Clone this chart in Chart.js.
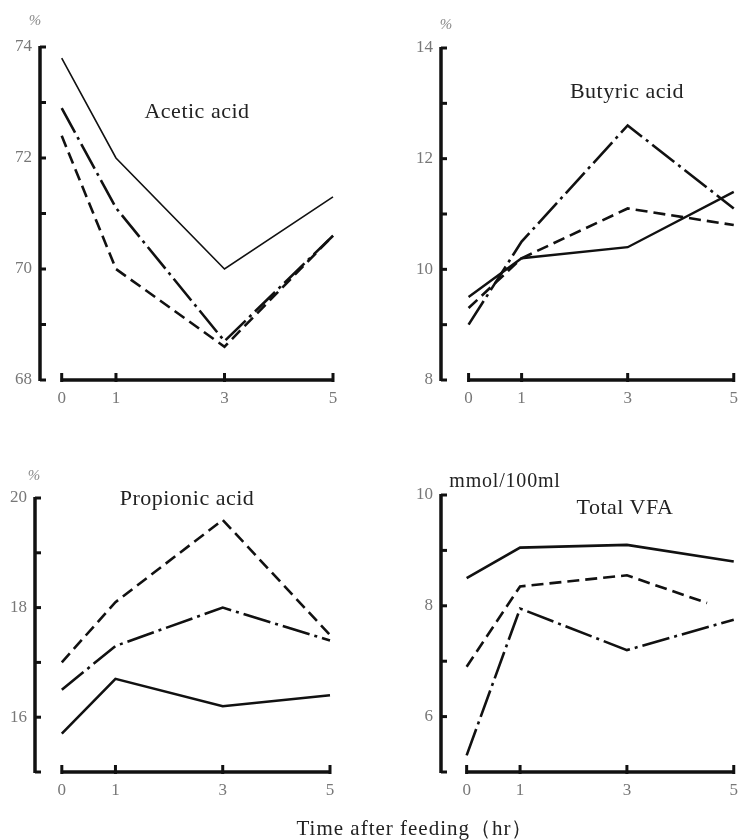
<!DOCTYPE html>
<html>
<head>
<meta charset="utf-8">
<script src="https://cdn.jsdelivr.net/npm/chart.js@4"></script>
<style>
  body { margin: 0; background: #fff; }
  #wrap { position: relative; width: 746px; height: 840px; overflow: hidden; }
  canvas { position: absolute; }
  .lbl { position: absolute; font-family: "Liberation Serif", serif; color: #222; white-space: nowrap; transform: translate(-50%, -50%); }
  .ttl { font-size: 22px; letter-spacing: 0.5px; }
  .unit { color: #888; font-style: italic; font-size: 15px; }
</style>
</head>
<body>
<div id="wrap">
  <canvas id="acetic" width="373" height="420" style="left:0;top:0"></canvas>
  <canvas id="butyric" width="373" height="420" style="left:373px;top:0"></canvas>
  <canvas id="propionic" width="373" height="420" style="left:0;top:420px"></canvas>
  <canvas id="vfa" width="373" height="420" style="left:373px;top:420px"></canvas>

  <div class="lbl unit" style="left:35px;top:20px">%</div>
  <div class="lbl unit" style="left:446px;top:24px">%</div>
  <div class="lbl unit" style="left:34px;top:475px">%</div>
  <div class="lbl" style="left:505px;top:480px;font-size:20px;letter-spacing:0.8px">mmol/100ml</div>

  <div class="lbl ttl" style="left:197px;top:111px">Acetic acid</div>
  <div class="lbl ttl" style="left:627px;top:91px">Butyric acid</div>
  <div class="lbl ttl" style="left:187px;top:498px">Propionic acid</div>
  <div class="lbl ttl" style="left:625px;top:507px">Total VFA</div>

  <div class="lbl" style="left:415px;top:828px;font-size:21px;letter-spacing:1px">Time after feeding（hr）</div>
</div>
<script>
// hours after feeding
let hours = [0, 1, 3, 5];
let hoursVfaDashed = [0, 1, 3, 4.5];

// acetic acid %
let aceticSolid = [73.8, 72.0, 70.0, 71.3];
let aceticDashed = [72.4, 70.0, 68.6, 70.6];
let aceticDashDot = [72.9, 71.1, 68.7, 70.6];

// butyric acid %
let butyricSolid = [9.5, 10.2, 10.4, 11.4];
let butyricDashed = [9.3, 10.2, 11.1, 10.8];
let butyricDashDot = [9.0, 10.5, 12.6, 11.1];

// propionic acid %
let propionicSolid = [15.7, 16.7, 16.2, 16.4];
let propionicDashed = [17.0, 18.1, 19.6, 17.5];
let propionicDashDot = [16.5, 17.3, 18.0, 17.4];

// total VFA mmol/100ml
let vfaSolid = [8.5, 9.05, 9.1, 8.8];
let vfaDashed = [6.9, 8.35, 8.55, 8.05];
let vfaDashDot = [5.3, 7.95, 7.2, 7.75];

// x tick labels
let xTicks = [0, 1, 3, 5];

function pts(xs, ys){
    return ys.map((v, i) => ({ x: xs[i], y: v }));
}

const DASH = [12, 6];
const DASHDOT = [28, 5, 3, 5];

function ds(xs, ys, dash, width){
    return {
        data: pts(xs, ys),
        borderColor: '#111',
        borderWidth: width,
        borderDash: dash,
        pointRadius: 0,
        tension: 0,
        fill: false,
        clip: false
    };
}

// draws the heavy axes with small inward tick marks
const axesPlugin = {
    id: 'axes',
    afterDraw(chart){
        const ctx = chart.ctx;
        const xs = chart.scales.x;
        const ys = chart.scales.y;
        const left = chart.chartArea.left;
        const bottom = chart.chartArea.bottom;
        ctx.save();
        ctx.strokeStyle = '#111';
        ctx.lineCap = 'butt';
        // y axis
        ctx.lineWidth = 3.5;
        ctx.beginPath();
        ctx.moveTo(left, ys.top - 1);
        ctx.lineTo(left, ys.bottom + 1);
        ctx.stroke();
        ctx.lineWidth = 3;
        ys.ticks.forEach(t => {
            const py = ys.getPixelForValue(t.value);
            ctx.beginPath();
            ctx.moveTo(left, py);
            ctx.lineTo(left + 6, py);
            ctx.stroke();
        });
        // x axis
        ctx.lineWidth = 3.5;
        ctx.beginPath();
        ctx.moveTo(xs.getPixelForValue(xTicks[0]) - 1, bottom);
        ctx.lineTo(xs.getPixelForValue(xTicks[xTicks.length - 1]) + 1, bottom);
        ctx.stroke();
        ctx.lineWidth = 3;
        xTicks.forEach(v => {
            const px = xs.getPixelForValue(v);
            ctx.beginPath();
            ctx.moveTo(px, bottom + 2);
            ctx.lineTo(px, bottom - 7);
            ctx.stroke();
        });
        ctx.restore();
    }
};

function panel(id, datasets, opt){
    const ctx = document.getElementById(id).getContext('2d');
    return new Chart(ctx, {
        type: 'line',
        data: { datasets: datasets },
        plugins: [axesPlugin],
        options: {
            responsive: false,
            animation: false,
            devicePixelRatio: 1,
            layout: { padding: { top: opt.top, right: opt.right, left: 0, bottom: 0 } },
            plugins: { legend: { display: false }, tooltip: { enabled: false } },
            scales: {
                x: {
                    type: 'linear',
                    min: opt.xMin,
                    max: 5,
                    afterBuildTicks: s => { s.ticks = xTicks.map(v => ({ value: v })); },
                    afterFit: s => { s.height = opt.xHeight; },
                    grid: { display: false, drawTicks: false },
                    border: { display: false },
                    ticks: {
                        padding: 8,
                        color: '#777',
                        font: { family: 'Liberation Serif', size: 17 },
                        autoSkip: false,
                        maxRotation: 0
                    }
                },
                y: {
                    min: opt.yMin,
                    max: opt.yMax,
                    afterFit: s => { s.width = opt.axisX; },
                    grid: { display: false, drawTicks: false },
                    border: { display: false },
                    ticks: {
                        stepSize: 1,
                        padding: 8,
                        color: '#777',
                        font: { family: 'Liberation Serif', size: 17 },
                        callback: v => (v % 2 === 0 ? v : '')
                    }
                }
            }
        }
    });
}

panel('acetic', [
    ds(hours, aceticSolid, [], 1.6),
    ds(hours, aceticDashDot, DASHDOT, 2.6),
    ds(hours, aceticDashed, DASH, 2.6)
], { xMin: -0.4, yMin: 68, yMax: 74, axisX: 40, top: 47, right: 40, xHeight: 40 });

panel('butyric', [
    ds(hours, butyricSolid, [], 2.4),
    ds(hours, butyricDashed, DASH, 2.6),
    ds(hours, butyricDashDot, DASHDOT, 2.6)
], { xMin: -0.52, yMin: 8, yMax: 14, axisX: 68, top: 48, right: 8, xHeight: 40 });

panel('propionic', [
    ds(hours, propionicSolid, [], 2.6),
    ds(hours, propionicDashed, DASH, 2.6),
    ds(hours, propionicDashDot, DASHDOT, 2.6)
], { xMin: -0.5, yMin: 15, yMax: 20, axisX: 35, top: 78, right: 43, xHeight: 68 });

panel('vfa', [
    ds(hours, vfaSolid, [], 2.6),
    ds(hoursVfaDashed, vfaDashed, DASH, 2.6),
    ds(hours, vfaDashDot, DASHDOT, 2.6)
], { xMin: -0.48, yMin: 5, yMax: 10, axisX: 68, top: 75, right: 9, xHeight: 68 });
</script>
</body>
</html>
